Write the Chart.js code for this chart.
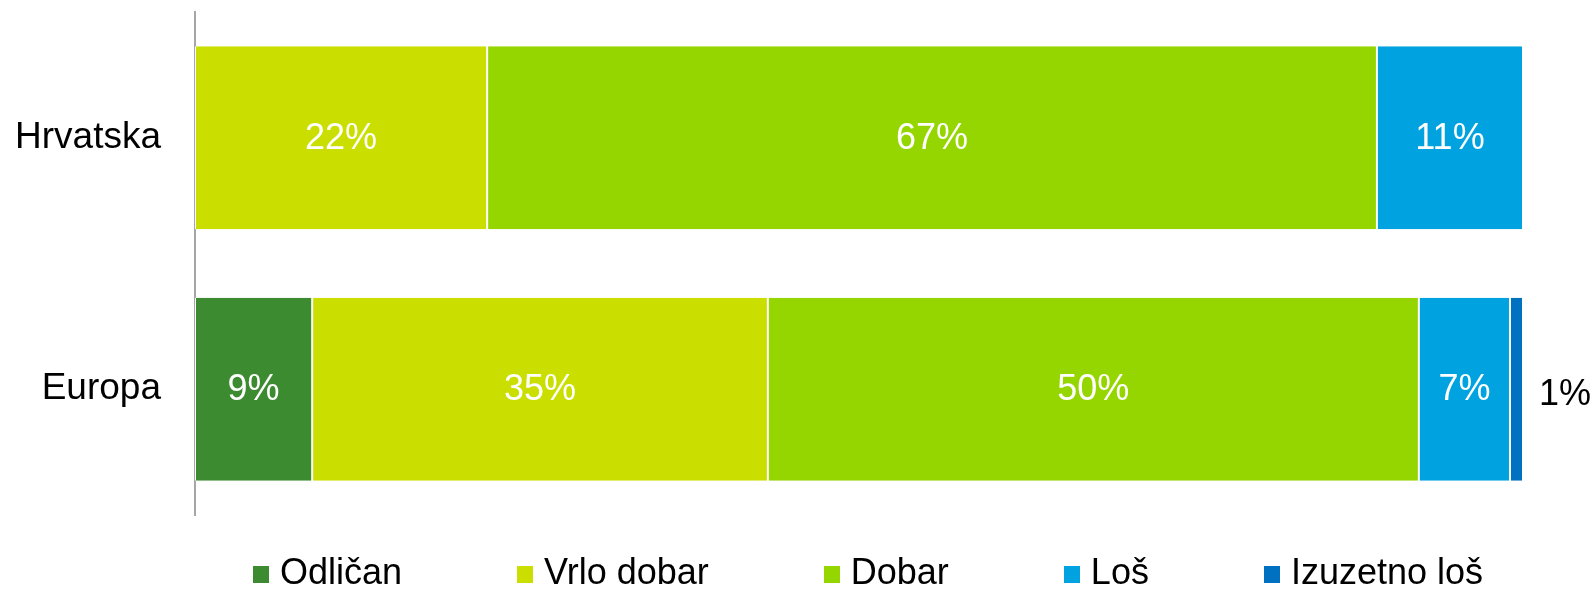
<!DOCTYPE html>
<html>
<head>
<meta charset="utf-8">
<script src="https://cdn.jsdelivr.net/npm/chart.js@4"></script>
<style>
  body { margin: 0; background: #fff; }
  #wrap { position: relative; width: 1596px; height: 590px; }
  #legend {
    position: absolute; top: 554px; left: 204px; width: 1328px; height: 36px;
    display: flex; justify-content: center; align-items: center; gap: 115px;
    font-family: "Liberation Sans", Arial, sans-serif; font-size: 36px; color: #000;
  }
  #legend .item { display: flex; align-items: center; line-height: 36px; white-space: nowrap; }
  #legend .box { width: 16px; height: 17px; margin-right: 11px; margin-top: 4px; }
</style>
</head>
<body>
<div id="wrap">
  <canvas id="chart1" width="1596" height="590"></canvas>
  <div id="legend"></div>
</div>
<script>
// categories and series (values are the shown percentages)
var categories = ['Hrvatska', 'Europa'];
var seriesNames = ['Odličan', 'Vrlo dobar', 'Dobar', 'Loš', 'Izuzetno loš'];
var odlican = [0, 9];
var vrloDobar = [22, 35];
var dobar = [67, 50];
var los = [11, 7];
var izuzetnoLos = [0, 1];
var seriesColors = ['#3d8b31', '#cadf00', '#95d500', '#00a2df', '#0071c1'];

var allSeries = [odlican, vrloDobar, dobar, los, izuzetnoLos];

// 100% stacked: each row is scaled to its own total
var totals = categories.map(function (c, i) {
  return allSeries.reduce(function (s, arr) { return s + arr[i]; }, 0);
});

var datasets = allSeries.map(function (arr, k) {
  return {
    label: seriesNames[k],
    data: arr.map(function (v, i) { return v / totals[i] * 100; }),
    raw: arr,
    backgroundColor: seriesColors[k],
    borderColor: '#ffffff',
    borderWidth: { left: 1, right: 1, top: 0, bottom: 0 },
    borderSkipped: false,
    barPercentage: 0.728,
    categoryPercentage: 1
  };
});

// percentage labels on the segments
var valueLabels = {
  id: 'valueLabels',
  afterDatasetsDraw: function (chart) {
    var ctx = chart.ctx;
    ctx.save();
    ctx.font = '36px "Liberation Sans", Arial, sans-serif';
    ctx.textBaseline = 'middle';
    chart.data.datasets.forEach(function (ds, k) {
      var meta = chart.getDatasetMeta(k);
      meta.data.forEach(function (bar, i) {
        var v = ds.raw[i];
        if (!v) return;
        var txt = v + '%';
        var w = Math.abs(bar.x - bar.base);
        if (w < 40) {
          ctx.fillStyle = '#000';
          ctx.textAlign = 'left';
          ctx.fillText(txt, bar.x + 16, bar.y + 6);
        } else {
          ctx.fillStyle = '#fff';
          ctx.textAlign = 'center';
          ctx.fillText(txt, (bar.x + bar.base) / 2, bar.y + 1);
        }
      });
    });
    ctx.restore();
  }
};

var ctx = document.getElementById('chart1').getContext('2d');
var chart = new Chart(ctx, {
  type: 'bar',
  data: {
    labels: categories,
    datasets: datasets
  },
  options: {
    indexAxis: 'y',
    responsive: false,
    animation: false,
    layout: { padding: { top: 12, right: 73, bottom: 75, left: 0 } },
    scales: {
      x: { stacked: true, min: 0, max: 100, display: false },
      y: {
        stacked: true,
        grid: { display: false, drawTicks: false },
        border: { display: true, color: '#a6a6a6', width: 2 },
        ticks: {
          color: '#000',
          padding: 34,
          font: { family: '"Liberation Sans", Arial, sans-serif', size: 37 }
        },
        afterFit: function (scale) {
          scale.width = 195;
          scale.paddingTop = 0;
          scale.paddingBottom = 0;
        }
      }
    },
    plugins: {
      legend: { display: false },
      tooltip: { enabled: false }
    }
  },
  plugins: [valueLabels]
});

// legend below the chart
var legend = document.getElementById('legend');
seriesNames.forEach(function (name, k) {
  var item = document.createElement('div');
  item.className = 'item';
  var box = document.createElement('span');
  box.className = 'box';
  box.style.background = seriesColors[k];
  item.appendChild(box);
  item.appendChild(document.createTextNode(name));
  legend.appendChild(item);
});
</script>
</body>
</html>
